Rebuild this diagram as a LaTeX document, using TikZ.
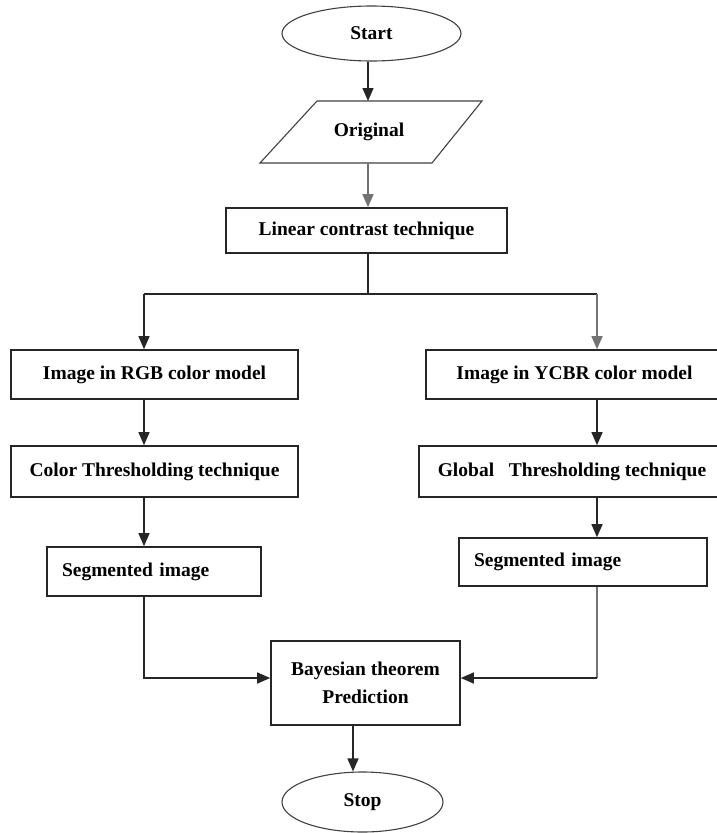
\documentclass[tikz,border=0pt]{standalone}
\usepackage{fontspec}
\setmainfont{Liberation Serif}
\usetikzlibrary{shapes.geometric,arrows.meta,calc}
\begin{document}
\begin{tikzpicture}[x=1pt,y=-1pt,
  every node/.style={font=\fontsize{19.5}{28}\selectfont\bfseries},
  box/.style={draw=black!85,line width=1.6pt,rectangle,inner sep=0pt,align=center},
  term/.style={draw=black!75,line width=1.1pt,ellipse,inner sep=0pt},
  conn/.style={line width=1.5pt,draw=black!85,-{Triangle[length=13pt,width=11pt]}},
  plain/.style={line width=1.5pt,draw=black!85},
  greyconn/.style={conn,draw=black!55},
  greyplain/.style={plain,draw=black!55}]
\useasboundingbox (0,0) rectangle (717,833);
\clip (0,0) rectangle (717,833);
% nodes
\node[term,minimum width=179pt,minimum height=55pt] (start) at (371.5,33.5) {Start};
\node[rectangle,inner sep=0pt,minimum width=172pt,minimum height=62pt] (orig) at (369,132) {Original};
\draw[line width=1.1pt,draw=black!75] (260,163) -- (317,101) -- (482,101) -- (432,163) -- cycle;
\node[box,minimum width=281pt,minimum height=45pt] (lin) at (366.5,230.5) {Linear contrast technique};
\coordinate (split) at (368,294);
\coordinate (L) at (144,294);
\coordinate (R) at (597,294);
\node[box,minimum width=287pt,minimum height=49pt] (rgb) at (154.5,374.5) {Image in RGB color model};
\node[box,minimum width=287pt,minimum height=51pt] (cth) at (154.5,471.5) {Color Thresholding technique};
\node[box,align=left,text width=184pt,inner xsep=15pt,minimum height=49pt] (segL) at (154,571.5) {Segmented image};
\node[box,minimum width=297pt,minimum height=49pt] (ycbr) at (574.5,374.5) {Image in YCBR color model};
\node[box,minimum width=306pt,minimum height=51pt] (gth) at (572,471.5) {Global\ \ \ Thresholding technique};
\node[box,align=left,text width=218pt,inner xsep=15pt,minimum height=48pt] (segR) at (583,562) {Segmented image};
\node[box,minimum width=189pt,minimum height=84pt] (bayes) at (365.5,683) {Bayesian theorem\\Prediction};
\node[term,minimum width=161pt,minimum height=60pt] (stop) at (362.5,802) {Stop};
% connectors
\draw[conn] (start.south -| 368,0) -- (368,101);
\draw[greyconn] (orig.south -| 368,0) -- (lin.north -| 368,0);
\draw[plain] (lin.south -| split) -- (split);
\draw[plain] (L) -- (R);
\draw[conn] (L) -- (L |- rgb.north);
\draw[greyconn] (R) -- (R |- ycbr.north);
\draw[conn] (rgb.south -| L) -- (cth.north -| L);
\draw[conn] (cth.south -| L) -- (segL.north -| L);
\draw[conn] (ycbr.south -| R) -- (gth.north -| R);
\draw[conn] (gth.south -| R) -- (segR.north -| R);
\coordinate (jl) at (144,678);
\coordinate (jr) at (597,678);
\draw[conn] (segL.south -| L) -- (jl) -- (jl -| bayes.west);
\draw[greyplain] (segR.south -| R) -- (jr);
\draw[conn] (jr) -- (jr -| bayes.east);
\draw[conn] (bayes.south -| 353,0) -- (stop.north -| 353,0);
\end{tikzpicture}
\end{document}
